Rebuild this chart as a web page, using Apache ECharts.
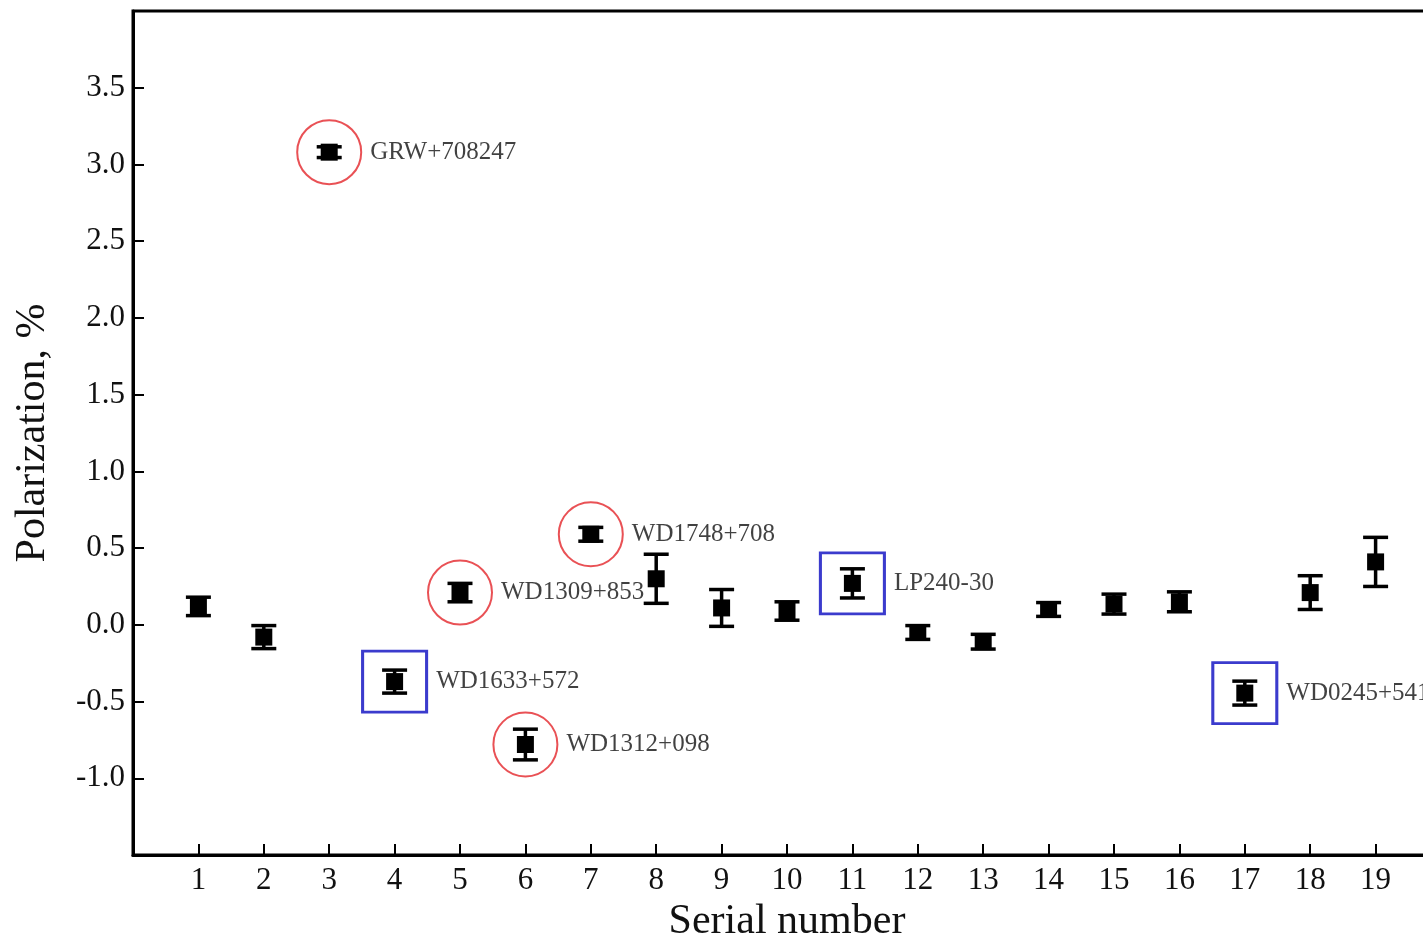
<!DOCTYPE html>
<html>
<head>
<meta charset="utf-8">
<script src="https://cdn.jsdelivr.net/npm/echarts@6/dist/echarts.min.js"></script>
<style>
  html, body { margin: 0; padding: 0; background: #fff; }
  #chart { width: 1423px; height: 937px; }
</style>
</head>
<body>
<div id="chart"></div>
<script>
// polarization per serial number, with 1-sigma errors
const serial = [1, 2, 3, 4, 5, 6, 7, 8, 9, 10, 11, 12, 13, 14, 15, 16, 17, 18, 19]
const polarization = [0.12, -0.08, 3.08, -0.37, 0.21, -0.78, 0.59, 0.30, 0.11, 0.09, 0.27, -0.05, -0.11, 0.10, 0.135, 0.15, -0.445, 0.21, 0.41]
const errors = [0.06, 0.075, 0.035, 0.075, 0.06, 0.10, 0.045, 0.16, 0.12, 0.06, 0.095, 0.045, 0.048, 0.045, 0.065, 0.065, 0.078, 0.11, 0.16]

// highlighted objects (serial number -> name)
const circled = [[3, 'GRW+708247'], [5, 'WD1309+853'], [6, 'WD1312+098'], [7, 'WD1748+708']]
const boxed = [[4, 'WD1633+572'], [11, 'LP240-30'], [17, 'WD0245+541']]

const yTicks = { min: -1.5, max: 4.0, step: 0.5 }
const xTicks = { min: 0, max: 20, step: 1 }

const font = '"Liberation Serif", "DejaVu Serif", serif'
const textColor = '#111'

const chart = echarts.init(document.getElementById('chart'))

function pointOf(s) {
  const i = serial.indexOf(s)
  return [serial[i], polarization[i]]
}

function renderErrorBar(params, api) {
  const x = api.value(0)
  const y = api.value(1)
  const e = api.value(2)
  const top = api.coord([x, y + e])
  const bot = api.coord([x, y - e])
  const c = api.coord([x, y])
  const cap = 12.5
  const line = { stroke: '#000', lineWidth: 3.5 }
  return {
    type: 'group',
    children: [
      { type: 'line', shape: { x1: top[0], y1: top[1], x2: bot[0], y2: bot[1] }, style: line },
      { type: 'line', shape: { x1: top[0] - cap, y1: top[1], x2: top[0] + cap, y2: top[1] }, style: line },
      { type: 'line', shape: { x1: bot[0] - cap, y1: bot[1], x2: bot[0] + cap, y2: bot[1] }, style: line },
      { type: 'rect', shape: { x: c[0] - 8.5, y: c[1] - 8.5, width: 17, height: 17 }, style: { fill: '#000' } },
    ],
  }
}

const annotationLabel = {
  show: true,
  position: 'right',
  formatter: '{b}',
  fontFamily: font,
  fontSize: 25,
  color: textColor,
}

chart.setOption({
  animation: false,
  grid: {
    left: 133,
    top: 11,
    bottom: 82,
    right: -18,
    outerBoundsMode: 'none',
    containLabel: false,
    show: true,
    borderColor: '#000',
    borderWidth: 3,
  },
  xAxis: {
    type: 'value',
    min: xTicks.min,
    max: xTicks.max,
    interval: xTicks.step,
    name: 'Serial number',
    nameLocation: 'middle',
    nameGap: 46,
    nameTextStyle: { fontFamily: font, fontSize: 42, color: textColor },
    axisLine: { onZero: false, lineStyle: { color: '#000', width: 3 } },
    axisTick: { inside: true, length: 11, lineStyle: { color: '#000', width: 2 } },
    axisLabel: {
      showMinLabel: false,
      showMaxLabel: false,
      margin: 10,
      fontFamily: font,
      fontSize: 31,
      color: textColor,
    },
    splitLine: { show: false },
  },
  yAxis: {
    type: 'value',
    min: yTicks.min,
    max: yTicks.max,
    interval: yTicks.step,
    name: 'Polarization, %',
    nameLocation: 'middle',
    nameGap: 79,
    nameTextStyle: { fontFamily: font, fontSize: 42, color: textColor },
    axisLine: { onZero: false, lineStyle: { color: '#000', width: 3 } },
    axisTick: { inside: true, length: 11, lineStyle: { color: '#000', width: 2 } },
    axisLabel: {
      showMinLabel: false,
      showMaxLabel: false,
      margin: 8,
      fontFamily: font,
      fontSize: 31,
      color: textColor,
      formatter: v => v.toFixed(1),
    },
    splitLine: { show: false },
  },
  series: [
    {
      type: 'custom',
      renderItem: renderErrorBar,
      data: serial.map((s, i) => [s, polarization[i], errors[i]]),
      z: 3,
    },
    {
      type: 'scatter',
      symbol: 'circle',
      symbolSize: 64,
      itemStyle: { color: 'rgba(0,0,0,0)', borderColor: '#e3262b', borderWidth: 2 },
      label: { ...annotationLabel, distance: 8 },
      data: circled.map(([s, name]) => ({ name, value: pointOf(s) })),
      z: 2,
    },
    {
      type: 'scatter',
      symbol: 'rect',
      symbolSize: [64, 61],
      itemStyle: { color: 'rgba(0,0,0,0)', borderColor: '#0a0ac0', borderWidth: 3 },
      label: { ...annotationLabel, distance: 8 },
      data: boxed.map(([s, name]) => ({ name, value: pointOf(s) })),
      z: 2,
    },
  ],
})
</script>
</body>
</html>
